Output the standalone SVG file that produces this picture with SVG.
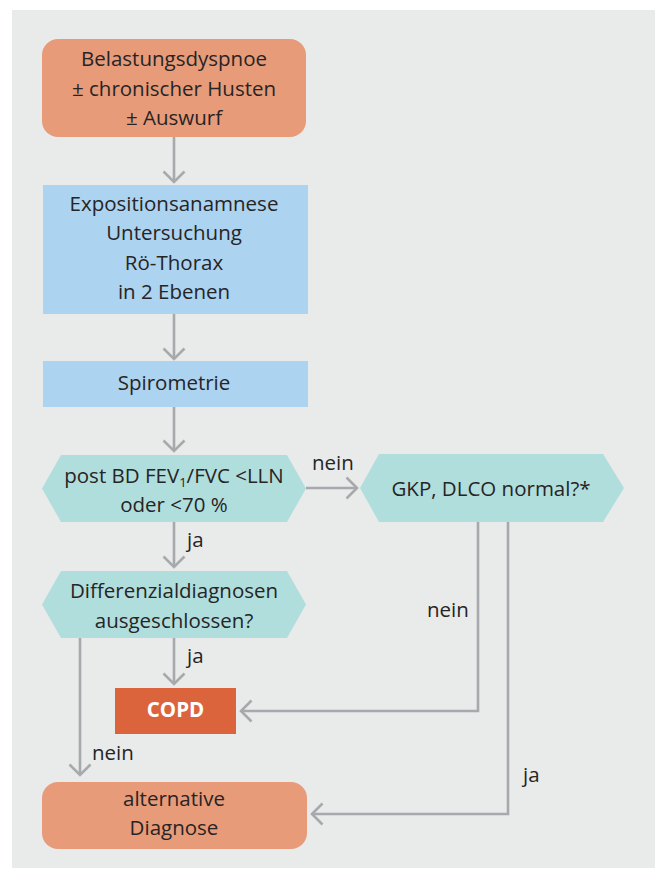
<svg xmlns="http://www.w3.org/2000/svg" width="660" height="869" viewBox="0 0 660 869">
  <style>
    .t { font-family: "Open Sans", "Noto Sans", sans-serif; font-size: 20.5px; fill: #272425; }
    .c { text-anchor: middle; }
    .lbl { font-family: "Open Sans", "Noto Sans", sans-serif; font-size: 20.5px; fill: #272425; }
    .orange { fill: #e89b79; }
    .blue { fill: #acd3ef; }
    .teal { fill: #b0dedd; }
    .copd { fill: #dc643c; }
    .conn { fill: none; stroke: #a7a9ac; stroke-width: 2.6; }
  </style>
  <defs>
    <marker id="arr" markerUnits="userSpaceOnUse" markerWidth="30" markerHeight="30" viewBox="-15 -15 30 30" refX="0" refY="0" orient="auto">
      <path d="M-10.5,-10.5 L0,0 L-10.5,10.5" fill="none" stroke="#a7a9ac" stroke-width="2.6"/>
    </marker>
  </defs>
  <rect x="12" y="10" width="643" height="858" fill="#e9eaea"/>

  <g id="connectors" class="conn">
    <path d="M174,137 V182" marker-end="url(#arr)"/>
    <path d="M174,314 V359" marker-end="url(#arr)"/>
    <path d="M174,407 V451" marker-end="url(#arr)"/>
    <path d="M306,488 H357" marker-end="url(#arr)"/>
    <path d="M174,522 V567" marker-end="url(#arr)"/>
    <path d="M174,638 V684" marker-end="url(#arr)"/>
    <path d="M80,638 V775" marker-end="url(#arr)"/>
    <path d="M478,522 V711 H241" marker-end="url(#arr)"/>
    <path d="M508,522 V814 H312" marker-end="url(#arr)"/>
  </g>

  <g id="labels">
    <text class="lbl" x="312" y="470">nein</text>
    <text class="lbl" x="187" y="547">ja</text>
    <text class="lbl" x="427" y="617">nein</text>
    <text class="lbl" x="187" y="663">ja</text>
    <text class="lbl" x="92" y="760">nein</text>
    <text class="lbl" x="523" y="782">ja</text>
  </g>

  <g id="n1">
    <rect class="orange" x="42" y="39" width="264" height="98" rx="16"/>
    <text class="t c" x="174" y="66">Belastungsdyspnoe</text>
    <text class="t c" x="174" y="96">± chronischer Husten</text>
    <text class="t c" x="174" y="125">± Auswurf</text>
  </g>

  <g id="n2">
    <rect class="blue" x="43" y="185" width="265" height="129"/>
    <text class="t c" x="174" y="211">Expositionsanamnese</text>
    <text class="t c" x="174" y="240">Untersuchung</text>
    <text class="t c" x="174" y="270">Rö-Thorax</text>
    <text class="t c" x="174" y="299">in 2 Ebenen</text>
  </g>

  <g id="n3">
    <rect class="blue" x="43" y="361" width="265" height="46"/>
    <text class="t c" x="174" y="390">Spirometrie</text>
  </g>

  <g id="n4">
    <polygon class="teal" points="42,488.5 61,455 287,455 306,488.5 287,522 61,522"/>
    <text class="t c" x="174" y="483">post BD FEV<tspan font-size="13" dy="4">1</tspan><tspan dy="-4">/FVC &lt;LLN</tspan></text>
    <text class="t c" x="174" y="512">oder &lt;70 %</text>
  </g>

  <g id="n5">
    <polygon class="teal" points="360,488 379,454 603,454 624,488 603,522 379,522"/>
    <text class="t c" x="491" y="496">GKP, DLCO normal?*</text>
  </g>

  <g id="n6">
    <polygon class="teal" points="42,604.5 61,571 287,571 306,604.5 287,638 61,638"/>
    <text class="t c" x="174" y="598">Differenzialdiagnosen</text>
    <text class="t c" x="174" y="628">ausgeschlossen?</text>
  </g>

  <g id="n7">
    <rect class="copd" x="115" y="688" width="121" height="46"/>
    <text class="c" x="175.5" y="717" font-family="'Open Sans', 'Noto Sans', sans-serif" font-size="20.5" font-weight="bold" fill="#ffffff">COPD</text>
  </g>

  <g id="n8">
    <rect class="orange" x="42" y="782" width="265" height="67" rx="16"/>
    <text class="t c" x="174" y="806">alternative</text>
    <text class="t c" x="174" y="835">Diagnose</text>
  </g>
</svg>
